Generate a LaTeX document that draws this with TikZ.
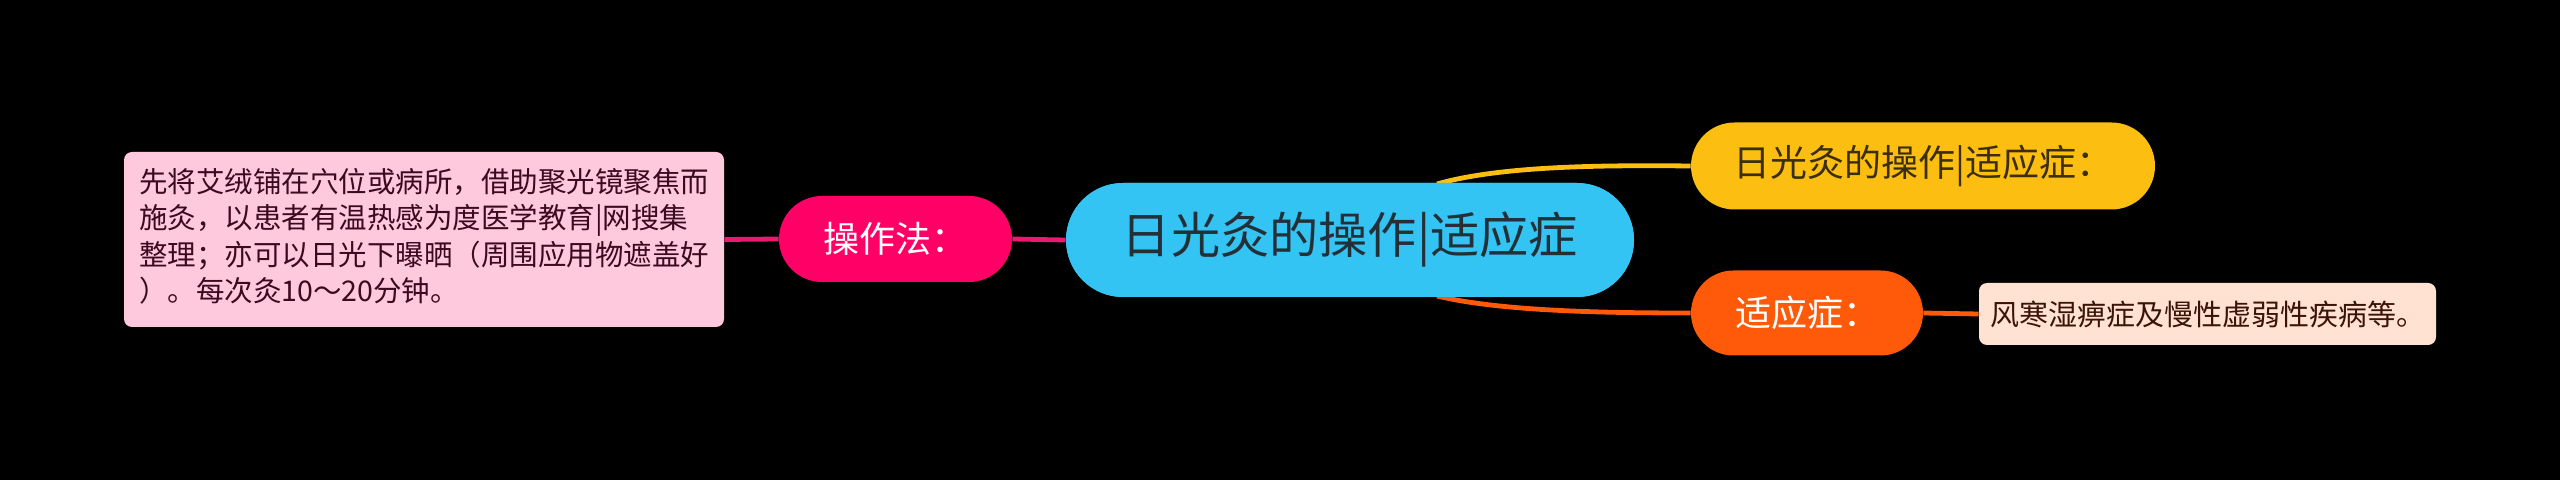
\documentclass[tikz,border=0pt]{standalone}
\usepackage{fontspec}
\setmainfont{Noto Sans CJK SC}
\usetikzlibrary{shapes.misc}
\definecolor{cCentral}{HTML}{33C4F4}
\definecolor{cCentralText}{HTML}{243038}
\definecolor{cYellow}{HTML}{FDBE12}
\definecolor{cYellowText}{HTML}{3A2E0C}
\definecolor{cOrange}{HTML}{FF5A0A}
\definecolor{cPink}{HTML}{FF0066}
\definecolor{cPinkLine}{HTML}{EA1A70}
\definecolor{cPinkLeaf}{HTML}{FFC9DD}
\definecolor{cPinkLeafText}{HTML}{3A0A1F}
\definecolor{cPeach}{HTML}{FFE2D2}
\definecolor{cPeachText}{HTML}{3B1405}
\tikzset{
  pill/.style={rounded rectangle, inner sep=0pt, align=center},
  leafbox/.style={rounded corners=4pt, inner sep=0pt, align=left},
  link/.style={line width=2.4pt},
}
\begin{document}
\begin{tikzpicture}[x=0.5pt,y=-0.5pt]
\fill[black] (0,0) rectangle (2560,480);
\useasboundingbox (0,0) rectangle (2560,480);
% nodes
\node[pill, fill=cCentral, text=cCentralText, minimum width=284pt, minimum height=57pt, font=\fontsize{24.6}{28}\selectfont] (central) at (1350,240) {日光灸的操作|适应症};
\node[pill, fill=cYellow, text=cYellowText, minimum width=232pt, minimum height=43.5pt, font=\fontsize{18.5}{22}\selectfont] (top) at (1923,166) {日光灸的操作|适应症：};
\node[pill, fill=cOrange, text=white, minimum width=116pt, minimum height=42.5pt, font=\fontsize{18}{22}\selectfont] (ind) at (1807,313) {适应症：};
\node[pill, fill=cPink, text=white, minimum width=116.5pt, minimum height=43pt, font=\fontsize{18}{22}\selectfont] (op) at (895.5,239) {操作法：};
\node[leafbox, fill=cPeach, text=cPeachText, minimum width=228.5pt, minimum height=31pt, align=center, font=\fontsize{14.5}{18}\selectfont] (indleaf) at (2207.5,314) {风寒湿痹症及慢性虚弱性疾病等。};
\node[leafbox, fill=cPinkLeaf, text=cPinkLeafText, minimum width=300pt, minimum height=87.5pt, font=\fontsize{14.25}{18.25}\selectfont] (opleaf) at (424,239.5) {%
\begin{tabular}{@{}l@{}}先将艾绒铺在穴位或病所，借助聚光镜聚焦而\\施灸，以患者有温热感为度医学教育|网搜集\\整理；亦可以日光下曝晒（周围应用物遮盖好\\）。每次灸10～20分钟。\end{tabular}};
% connectors
\coordinate (cTopStart) at (1437,184);
\coordinate (cBotStart) at (1437,296);
\draw[link, cYellow] (cTopStart) .. controls (1500,166) and (1600,165) .. (top.west);
\draw[link, cOrange] (cBotStart) .. controls (1500,311) and (1600,313) .. (ind.west);
\draw[link, cPinkLine] (op.east) -- (central.west);
\draw[link, cPinkLine] (opleaf.east) -- (op.west);
\draw[link, cOrange] (ind.east) -- (indleaf.west);
% redraw central on top of curve starts
\node[pill, fill=cCentral, text=cCentralText, minimum width=284pt, minimum height=57pt, font=\fontsize{24.6}{28}\selectfont] at (1350,240) {日光灸的操作|适应症};
\end{tikzpicture}
\end{document}
